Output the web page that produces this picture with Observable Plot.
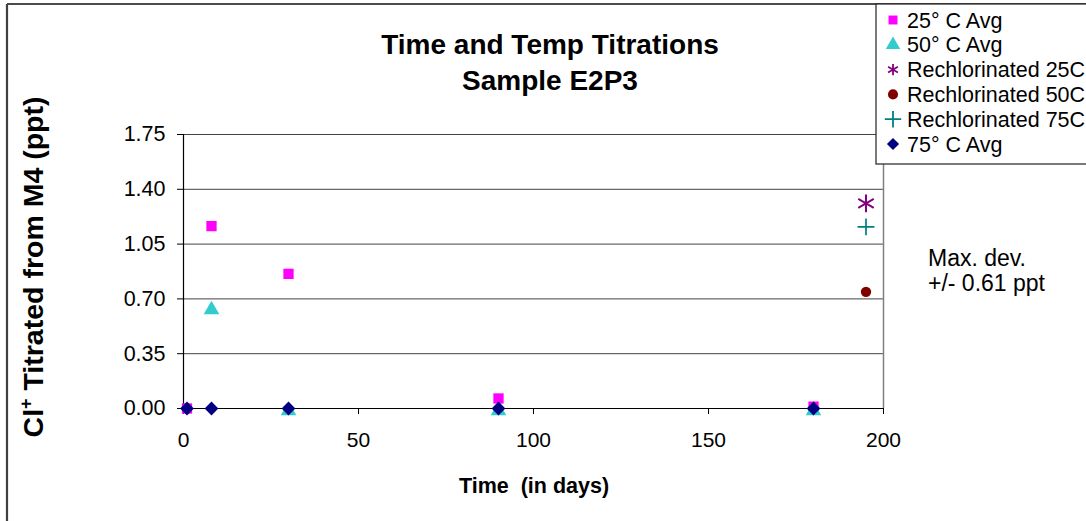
<!DOCTYPE html>
<html><head><meta charset="utf-8">
<script src="https://cdn.jsdelivr.net/npm/d3@7"></script>
<script src="https://cdn.jsdelivr.net/npm/@observablehq/plot@0.6"></script>
<style>
body{margin:0;background:#fff;}
#chart{position:relative;width:1086px;height:521px;overflow:hidden;}
</style>
</head><body><div id="chart"></div>
<script>
// ---- data ----
const xTicks = [0, 50, 100, 150, 200];
const yTicks = [0, 0.35, 0.70, 1.05, 1.40, 1.75];
const days25 = [1, 8, 30, 90, 180];
const avg25 = [0, 1.165, 0.86, 0.064, 0.012];
const days50 = [8, 30, 90, 180];
const avg50 = [0.63, -0.015, -0.015, -0.015];
const days75 = [1, 8, 30, 90, 180];
const avg75 = [0, 0, 0, 0, 0];
const rechDays = [195];
const rech25 = [1.31];
const rech50 = [0.745];
const rech75 = [1.16];
const seriesNames = ["25° C Avg", "50° C Avg", "Rechlorinated 25C", "Rechlorinated 50C", "Rechlorinated 75C", "75° C Avg"];
const seriesColors = ["#FF00FF", "#33CCCC", "#800080", "#800000", "#008080", "#000080"];
const titleLines = ["Time and Temp Titrations", "Sample E2P3"];
const xLabel = "Time  (in days)";
const noteLines = ["Max. dev.", "+/- 0.61 ppt"];

const rows = (xs, ys) => xs.map((x, i) => ({x, y: ys[i]}));
const FONT = "'Liberation Sans', Arial, sans-serif";

const plot = Plot.plot({
  width: 1086, height: 521,
  marginLeft: 183, marginRight: 203, marginTop: 134, marginBottom: 113,
  style: {fontFamily: FONT, fontSize: "21px", background: "white", color: "black", overflow: "visible"},
  x: {domain: [0, 200], label: null},
  y: {domain: [0, 1.75], label: null},
  marks: [
    Plot.gridY(yTicks, {stroke: "#222", strokeOpacity: 0.85, strokeWidth: 1}),
    Plot.ruleX([200], {stroke: "#808080", strokeWidth: 1.5}),
    Plot.axisX(xTicks, {tickSize: 6, tickPadding: 18, tickFormat: d => String(d), fontSize: 21, label: null}),
    Plot.axisY(yTicks, {tickSize: 6, tickPadding: 12, tickFormat: d3.format(".2f"), fontSize: 21.5, label: null}),
    Plot.ruleX([0], {stroke: "black", strokeWidth: 1.2}),
    Plot.ruleY([0], {stroke: "black", strokeWidth: 1.2}),
    Plot.dot(rows(days25, avg25), {x: "x", y: "y", symbol: "square", r: 5.8, fill: seriesColors[0], stroke: "none"}),
    Plot.dot(rows(days50, avg50), {x: "x", y: "y", symbol: "triangle", r: 5.8, fill: seriesColors[1], stroke: "none"}),
    Plot.dot(rows(rechDays, rech25), {x: "x", y: "y", symbol: "asterisk", r: 8.5, stroke: seriesColors[2], strokeWidth: 2, fill: "none"}),
    Plot.dot(rows(rechDays, rech50), {x: "x", y: "y", symbol: "circle", r: 5.2, fill: seriesColors[3], stroke: "none"}),
    Plot.dot(rows(rechDays, rech75), {x: "x", y: "y", symbol: "plus", r: 5.5, stroke: seriesColors[4], strokeWidth: 1.7, fill: "none"}),
    Plot.dot(rows(days75, avg75), {x: "x", y: "y", symbol: "diamond2", r: 6.2, fill: seriesColors[5], stroke: "none"})
  ]
});
document.getElementById("chart").appendChild(plot);

const svg = d3.select(plot);
// outer chart border (cropped)
svg.append("line").attr("x1", 7).attr("y1", 4).attr("x2", 1086).attr("y2", 4).attr("stroke", "#111").attr("stroke-width", 1.5);
svg.append("line").attr("x1", 7).attr("y1", 4).attr("x2", 7).attr("y2", 521).attr("stroke", "#404040").attr("stroke-width", 2.2);

// titles
const tt = svg.append("g").attr("font-family", FONT).attr("font-weight", "bold").attr("font-size", 28).attr("text-anchor", "middle");
titleLines.forEach((t, i) => tt.append("text").attr("x", 550).attr("y", 54 + i * 36).text(t));

// x label
svg.append("text").attr("x", 534).attr("y", 493).attr("font-family", FONT).attr("font-weight", "bold")
  .attr("font-size", 21.5).attr("text-anchor", "middle").attr("xml:space", "preserve").text(xLabel);

// y label
const yl = svg.append("text").attr("transform", "translate(43,267) rotate(-90)").attr("font-family", FONT)
  .attr("font-weight", "bold").attr("font-size", 28.5).attr("text-anchor", "middle");
yl.append("tspan").text("Cl");
yl.append("tspan").attr("font-size", 18).attr("dy", -11).text("+");
yl.append("tspan").attr("dy", 11).text(" Titrated from M4 (ppt)");

// note
const nt = svg.append("g").attr("font-family", FONT).attr("font-size", 23).attr("text-anchor", "start");
noteLines.forEach((t, i) => nt.append("text").attr("x", 928).attr("y", 266 + i * 25).text(t));

// legend
const lg = svg.append("g").attr("font-family", FONT).attr("font-size", 21.5).attr("text-anchor", "start");
lg.append("rect").attr("x", 876).attr("y", 4).attr("width", 230).attr("height", 160).attr("fill", "white").attr("stroke", "#222").attr("stroke-width", 1.2);
const symTypes = [d3.symbolSquare, d3.symbolTriangle, d3.symbolAsterisk, d3.symbolCircle, d3.symbolPlus, d3.symbolDiamond2];
const filled = [true, true, false, true, false, true];
const symSize = [80, 90, 90, 80, 90, 95];
seriesNames.forEach((name, i) => {
  const cy = 20 + i * 24.8;
  const p = lg.append("path").attr("transform", `translate(893,${cy})`).attr("d", d3.symbol(symTypes[i], symSize[i])());
  if (filled[i]) p.attr("fill", seriesColors[i]);
  else p.attr("fill", "none").attr("stroke", seriesColors[i]).attr("stroke-width", 1.8);
  lg.append("text").attr("x", 907).attr("y", cy + 7.5).text(name);
});
</script>
</body></html>
